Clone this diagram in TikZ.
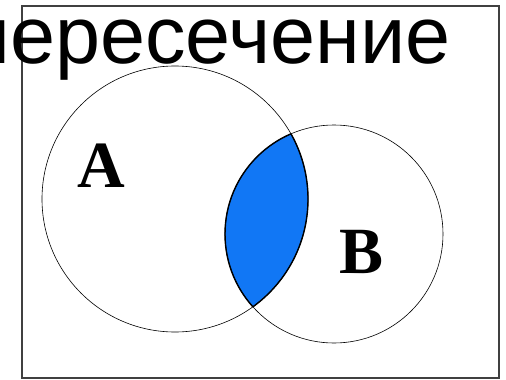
\documentclass[tikz,border=0pt]{standalone}
\usepackage{fontspec}
\setmainfont{Liberation Sans}
\newfontfamily\serifbold{Liberation Serif}
\definecolor{lensblue}{RGB}{17,119,245}
\begin{document}
\begin{tikzpicture}[x=1pt,y=-1pt,
  venn/.style={line width=0.6pt,draw=black},
  lensedge/.style={line width=1.4pt,draw=black},
  setlabel/.style={inner sep=0pt,font=\serifbold\bfseries\fontsize{66}{66}\selectfont},
  frame/.style={line width=1.3pt,draw=black!75}]
\useasboundingbox (0,0) rectangle (506,380);
\fill[white] (0,0) rectangle (506,380);
\draw[frame] (22,6) rectangle (499,378);
% lens
\begin{scope}
  \clip (175,199) circle (133);
  \fill[lensblue] (334,234) circle (109);
  \draw[lensedge] (334,234) circle (109);
\end{scope}
\begin{scope}
  \clip (334,234) circle (109);
  \draw[lensedge] (175,199) circle (133);
\end{scope}
\draw[venn] (175,199) circle (133);
\draw[venn] (334,234) circle (109);
\node[setlabel,anchor=base west] (la) at (77,187) {A};
\node[setlabel,anchor=base west] (lb) at (339,273) {B};
\node[inner sep=0pt,anchor=base west,font=\fontsize{81}{81}\selectfont] (title) at (-34,63) {пересечение};
\end{tikzpicture}
\end{document}
